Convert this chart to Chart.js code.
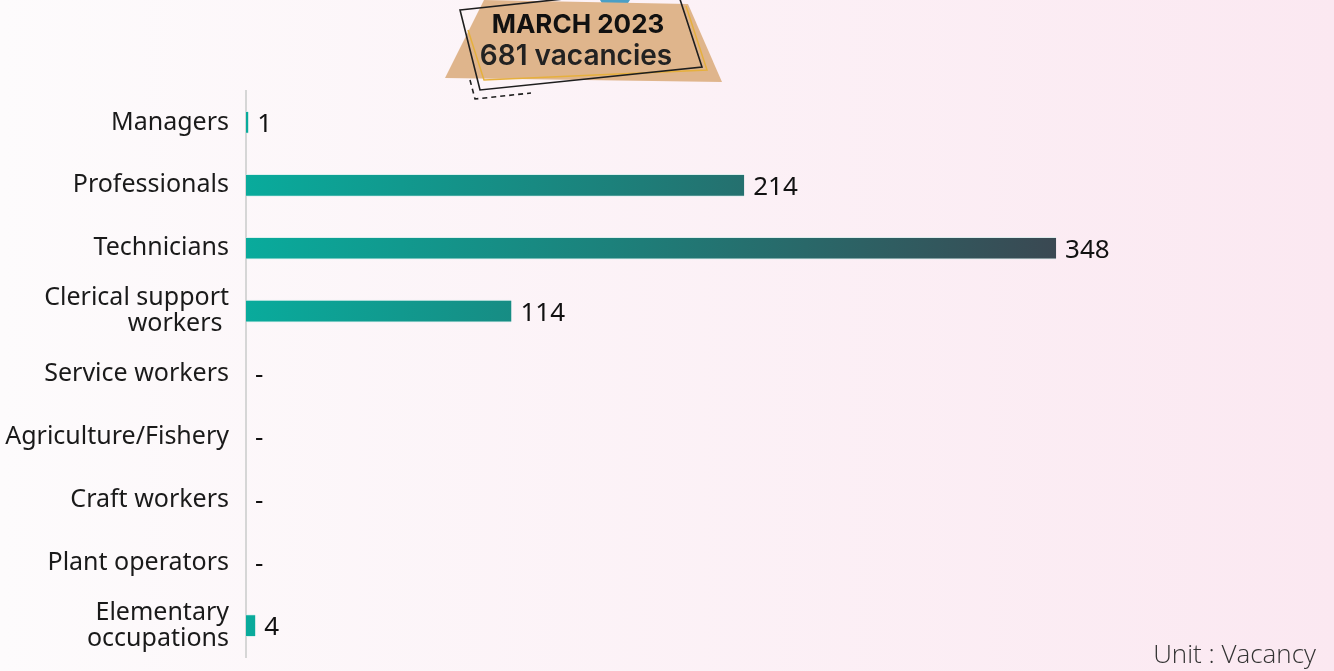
<!DOCTYPE html>
<html>
<head>
<meta charset="utf-8">
<script src="https://cdn.jsdelivr.net/npm/chart.js@4/dist/chart.umd.min.js"></script>
<style>
  html, body { margin: 0; padding: 0; }
  #wrap { width: 1334px; height: 671px; position: relative; }
</style>
</head>
<body>
<div id="wrap"><canvas id="vacancyChart"></canvas></div>
<script>
(function () {
    "use strict";

    // Datos: vacantes por ocupación, marzo 2023
    const categories = [
        "Managers",
        "Professionals",
        "Technicians",
        ["Clerical support", "workers "],
        "Service workers",
        "Agriculture/Fishery",
        "Craft workers",
        "Plant operators",
        ["Elementary", "occupations"]
    ];
    const vacancies = [1, 214, 348, 114, 0, 0, 0, 0, 4];
    const titleLines = ["MARCH 2023", "681 vacancies"];
    const unitLabel = "Unit : Vacancy";

    const labelFont = "'Noto Sans', sans-serif";

    // fondo degradado
    const backgroundPlugin = {
        id: "pageBackground",
        beforeDraw(chart) {
            const c = chart.ctx;
            const g = c.createLinearGradient(0, 0, chart.width, 0);
            g.addColorStop(0, "#fdfbfc");
            g.addColorStop(1, "#fbe8f1");
            c.save();
            c.fillStyle = g;
            c.fillRect(0, 0, chart.width, chart.height);
            c.restore();
        }
    };

    // recuadro del título
    const titleBoxPlugin = {
        id: "titleBox",
        afterDraw(chart) {
            const c = chart.ctx;
            c.save();
            // franja azul de arriba
            c.fillStyle = "#4a9fc6";
            c.beginPath();
            c.moveTo(600, 0); c.lineTo(630, 0); c.lineTo(628, 3); c.lineTo(603, 5);
            c.closePath(); c.fill();
            // forma color arena
            c.fillStyle = "#dfb58c";
            c.beginPath();
            c.moveTo(484, 0); c.lineTo(688, 4); c.lineTo(722, 82); c.lineTo(445, 78);
            c.closePath(); c.fill();
            // contorno amarillo
            c.strokeStyle = "#e6b03d";
            c.lineWidth = 1.5;
            c.beginPath();
            c.moveTo(468, 30); c.lineTo(484, 80); c.lineTo(707, 70); c.lineTo(686, 6);
            c.stroke();
            // contorno negro
            c.strokeStyle = "#1e1e1e";
            c.lineWidth = 1.6;
            c.beginPath();
            c.moveTo(460, 10); c.lineTo(676, -13); c.lineTo(702, 67); c.lineTo(480, 90);
            c.closePath(); c.stroke();
            // línea discontinua
            c.setLineDash([5, 4]);
            c.beginPath();
            c.moveTo(470, 80); c.lineTo(475, 99); c.lineTo(531, 93);
            c.stroke();
            c.setLineDash([]);
            // texto
            c.fillStyle = "#111";
            c.textAlign = "center";
            c.textBaseline = "middle";
            c.font = "bold 26px Inter, sans-serif";
            c.fillText(titleLines[0], 578, 25);
            c.fillStyle = "#222";
            c.font = "600 28px Inter, sans-serif";
            c.fillText(titleLines[1], 576, 57);
            // unidad
            c.fillStyle = "#333";
            c.textAlign = "right";
            c.font = "300 26px 'Open Sans', sans-serif";
            c.fillText(unitLabel, 1316, 656);
            c.restore();
        }
    };

    // etiquetas de valor al final de cada barra
    const valueLabelPlugin = {
        id: "valueLabels",
        afterDatasetsDraw(chart) {
            const c = chart.ctx;
            const meta = chart.getDatasetMeta(0);
            c.save();
            c.fillStyle = "#111";
            c.font = "26px " + labelFont;
            c.textAlign = "left";
            c.textBaseline = "middle";
            meta.data.forEach((bar, i) => {
                const v = vacancies[i];
                c.fillText(v ? String(v) : "-", bar.x + 9, bar.y + 2);
            });
            c.restore();
        }
    };

    const barGradient = (context) => {
        const chart = context.chart;
        const area = chart.chartArea;
        if (!area) return "#0aa99a";
        const xs = chart.scales.x;
        const x0 = xs.getPixelForValue(0);
        const x1 = xs.getPixelForValue(Math.max(...vacancies));
        const g = chart.ctx.createLinearGradient(x0, 0, x1, 0);
        g.addColorStop(0, "#09ab9c");
        g.addColorStop(0.45, "#1c817b");
        g.addColorStop(1, "#3a4852");
        return g;
    };

    const ctx = document.getElementById("vacancyChart").getContext("2d");
    new Chart(ctx, {
        type: "bar",
        data: {
            labels: categories,
            datasets: [
                {
                    data: vacancies,
                    backgroundColor: barGradient,
                    borderColor: "rgba(200,235,230,0.6)",
                    borderWidth: { top: 1, bottom: 1, left: 0, right: 0 },
                    borderSkipped: "start",
                    barThickness: 22,
                }
            ]
        },
        options: {
            indexAxis: "y",
            responsive: true,
            maintainAspectRatio: false,
            animation: false,
            layout: {
                padding: { top: 91, bottom: 14, left: 0, right: 87 }
            },
            scales: {
                x: {
                    display: false,
                    min: 0,
                    max: 430
                },
                y: {
                    afterFit(scale) {
                        scale.width = 246;
                        scale.paddingTop = 0;
                        scale.paddingBottom = 0;
                    },
                    grid: { display: false, drawTicks: false },
                    border: { display: true, color: "#d6d6d6", width: 2 },
                    ticks: {
                        padding: 17,
                        color: "#1a1a1a",
                        font: { family: "Noto Sans", size: 25, lineHeight: 1.05 }
                    }
                }
            },
            plugins: {
                legend: { display: false },
                tooltip: { enabled: false }
            }
        },
        plugins: [backgroundPlugin, valueLabelPlugin, titleBoxPlugin]
    });
})();
</script>
</body>
</html>
